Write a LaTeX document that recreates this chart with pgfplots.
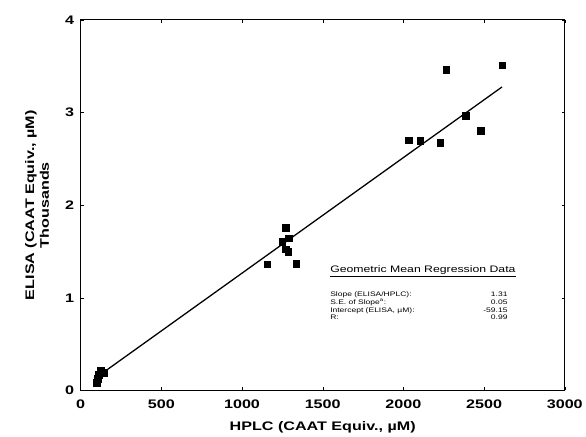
\documentclass[border=0pt]{standalone}
\usepackage{fontspec}
\setmainfont[FakeStretch=1.3]{Liberation Sans}
\usepackage{pgfplots}
\pgfplotsset{compat=1.18}

\pgfplotstableread{
x y
99 86
105 129
111 172
123 215
142 194
1156 1362
1249 1605
1270 1527
1272 1760
1286 1498
1290 1642
1335 1366
2033 2702
2105 2699
2228 2677
2264 3462
2385 2968
2480 2806
2611 3509
}\elisadata

\begin{document}
\begin{tikzpicture}
\begin{axis}[
    name=main,
    scale only axis,
    width=486bp,
    height=372bp,
    xmin=0, xmax=3000,
    ymin=0, ymax=4000,
    xtick={0,500,...,3000},
    ytick={0,1000,2000,3000,4000},
    yticklabels={0,1,2,3,4},
    /pgf/number format/assume math mode=true,
    /pgf/number format/1000 sep={},
    tick label style={font=\fontsize{12.5}{14}\selectfont\bfseries},
    xticklabel style={yshift=-6pt},
    yticklabel style={xshift=-3pt},
    xlabel={HPLC (CAAT Equiv., µM)},
    ylabel={ELISA (CAAT Equiv., µM)\\Thousands},
    label style={font=\fontsize{12.5}{15}\selectfont\bfseries},
    ylabel style={align=center, at={(axis description cs:-0.09,0.5)}, anchor=center},
    xlabel style={at={(axis description cs:0.5,-0.1)}, anchor=center},
    tick style={black, thin},
    major tick length=3pt,
    axis line style={line width=1pt},
]
\addplot[black, line width=1.3pt] coordinates {(117,165) (2611,3276)};
\addplot[only marks, mark=square*, mark size=3.3bp, black] table[x=x, y=y] {\elisadata};

\node[anchor=base west, font=\fontsize{9.5}{11}\selectfont] at (axis cs:1525,1269) {\underline{Geometric Mean Regression Data}};
\node[anchor=base west, font=\fontsize{6.6}{8}\selectfont] at (axis cs:1525,1011) {Slope (ELISA/HPLC):};
\node[anchor=base west, font=\fontsize{6.6}{8}\selectfont] at (axis cs:1525,930) {S.E. of Slope\textsuperscript{a}:};
\node[anchor=base west, font=\fontsize{6.6}{8}\selectfont] at (axis cs:1525,844) {Intercept (ELISA, µM):};
\node[anchor=base west, font=\fontsize{6.6}{8}\selectfont] at (axis cs:1525,769) {R:};
\node[anchor=base east, font=\fontsize{6.6}{8}\selectfont] at (axis cs:2667,1011) {1.31};
\node[anchor=base east, font=\fontsize{6.6}{8}\selectfont] at (axis cs:2667,930) {0.05};
\node[anchor=base east, font=\fontsize{6.6}{8}\selectfont] at (axis cs:2667,844) {-59.15};
\node[anchor=base east, font=\fontsize{6.6}{8}\selectfont] at (axis cs:2667,769) {0.99};
\end{axis}
\path[use as bounding box] ([shift={(-81bp,-44bp)}]main.south west) rectangle ([shift={(19bp,20bp)}]main.north east);
\end{tikzpicture}
\end{document}
